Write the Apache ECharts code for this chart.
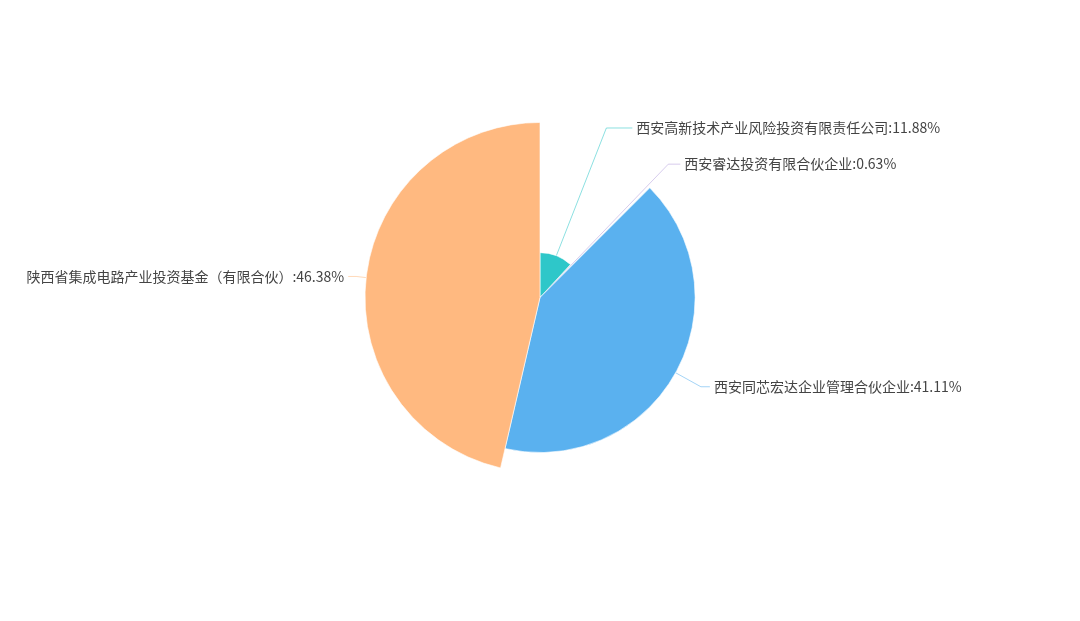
<!DOCTYPE html>
<html>
<head>
<meta charset="utf-8">
<script src="https://cdn.jsdelivr.net/npm/echarts@6/dist/echarts.min.js"></script>
<style>
html,body{margin:0;padding:0;background:#fff;}
#main{width:1080px;height:621px;}
</style>
</head>
<body>
<div id="main"></div>
<script>
var categories = [
  '西安高新技术产业风险投资有限责任公司',
  '西安睿达投资有限合伙企业',
  '西安同芯宏达企业管理合伙企业',
  '陕西省集成电路产业投资基金（有限合伙）'
];
var shareValues = [11.88, 0.63, 41.11, 46.38];
var sliceColors = ['#2ec7c9', '#b6a2de', '#5ab1ef', '#ffb980'];

var lineLen = [7, 10, 9, 10];
var lineLen2 = [26, 12, 9, 8];

var chart = echarts.init(document.getElementById('main'));
var seriesData = categories.map(function (name, i) {
  return {
    name: name,
    value: shareValues[i],
    itemStyle: { color: sliceColors[i] },
    labelLine: { length: lineLen[i], length2: lineLen2[i], lineStyle: { color: sliceColors[i], opacity: 0.55, width: 1 } }
  };
});

chart.setOption({
  animation: false,
  backgroundColor: '#ffffff',
  series: [{
    type: 'pie',
    roseType: 'radius',
    center: ['50%', '47.9%'],
    radius: [0, 175],
    startAngle: 90,
    clockwise: true,
    avoidLabelOverlap: false,
    itemStyle: { borderColor: '#ffffff', borderWidth: 0.6 },
    label: {
      show: true,
      formatter: function (p) { return p.name + ':' + p.value.toFixed(2) + '%'; },
      color: '#444444',
      fontSize: 14,
      fontFamily: 'Noto Sans CJK SC',
      distanceToLabelLine: 4
    },
    labelLine: { show: true, smooth: false },
    emphasis: { disabled: true },
    data: seriesData
  }]
});
</script>
</body>
</html>
